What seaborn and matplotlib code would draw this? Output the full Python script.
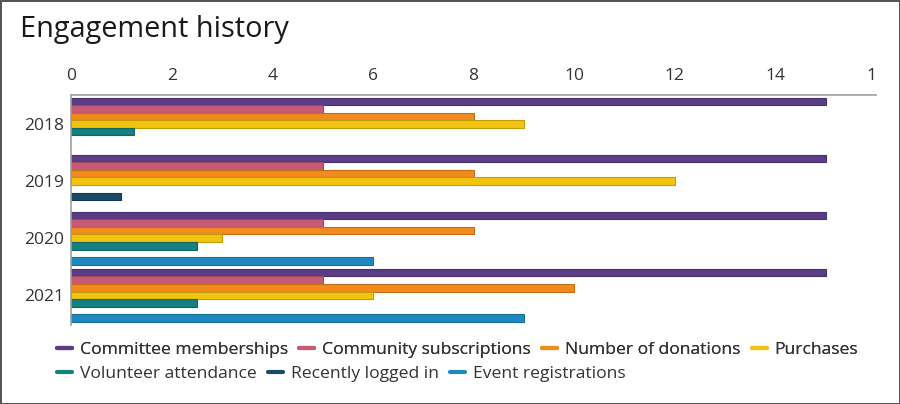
import numpy as np
import pandas as pd
import matplotlib.pyplot as plt
import seaborn as sns
from matplotlib.lines import Line2D
from matplotlib.transforms import Bbox, TransformedBbox
import matplotlib.colors as mcolors

sns.set_theme(style="white")
plt.rcParams['font.family'] = ['Open Sans', 'DejaVu Sans']

years = ['2018', '2019', '2020', '2021']
series = ['Committee memberships', 'Community subscriptions', 'Number of donations',
          'Purchases', 'Volunteer attendance', 'Recently logged in', 'Event registrations']
committee = [15, 15, 15, 15]
community = [5, 5, 5, 5]
donations = [8, 8, 8, 10]
purchases = [9, 12, 3, 6]
volunteer = [1.25, None, 2.5, 2.5]
logged_in = [None, 1, None, None]
events = [None, None, 6, 9]
colors = ['#5a3d85', '#c75a74', '#f28a1d', '#f2c30f', '#16807f', '#1a4a69', '#1f89c1']

values = [committee, community, donations, purchases, volunteer, logged_in, events]
rows = []
for name, vals in zip(series, values):
    for y, v in zip(years, vals):
        if v is not None:
            rows.append({'year': y, 'series': name, 'value': v})
df = pd.DataFrame(rows)

fig = plt.figure(figsize=(9, 4.04), dpi=100)
ax = fig.add_axes([71 / 900, 1 - 325 / 404, (876 - 71) / 900, 230 / 404])
sns.barplot(data=df, x='value', y='year', hue='series', hue_order=series, order=years,
            palette=colors, orient='h', width=0.93, saturation=1, legend=False, ax=ax)

for cont, c in zip(ax.containers, colors):
    edge = np.array(mcolors.to_rgb(c)) * 0.8
    for p in cont:
        p.set_edgecolor(edge)
        p.set_linewidth(0.8)

ax.set_xlim(0, 16)
ax.set_ylim(3.52, -0.51)
ax.set_xticks(np.arange(0, 17, 2))
ax.xaxis.tick_top()
ax.tick_params(axis='x', length=0, pad=8, labelsize=12.5, labelcolor='#333333')
ax.tick_params(axis='y', length=0, pad=5, labelsize=12.5, labelcolor='#333333')
ax.set_xlabel('')
ax.set_ylabel('')
for s in ['right', 'bottom']:
    ax.spines[s].set_visible(False)
for s in ['top', 'left']:
    ax.spines[s].set_color('#a0a0a0')
    ax.spines[s].set_linewidth(1.2)

# the last tick label is cut off at the right edge of the plot area
clip = TransformedBbox(Bbox([[0, 0], [876 / 900, 1]]), fig.transFigure)
last = ax.get_xticklabels()[-1]
last.set_clip_box(clip)
last.set_clip_on(True)

fig.text(20 / 900, 1 - 29 / 404, 'Engagement history', fontsize=20.8, color='#1a1a1a',
         va='center', ha='left')

handles = [Line2D([0], [0], color=c, lw=3) for c in colors]
legend_kw = dict(frameon=False, fontsize=12.6, handlelength=0.85, handletextpad=0.45,
                 columnspacing=0.65, borderaxespad=0, loc='center left')
leg1 = fig.legend(handles[:4], series[:4], ncol=4,
                  bbox_to_anchor=(50 / 900, 1 - 350 / 404), **legend_kw)
leg2 = fig.legend(handles[4:], series[4:], ncol=3,
                  bbox_to_anchor=(50 / 900, 1 - 374 / 404), **legend_kw)
fig.add_artist(leg1)
for leg in (leg1, leg2):
    for t in leg.get_texts():
        t.set_color('#333333')

fig.patch.set_edgecolor('#555555')
fig.patch.set_linewidth(2)
plt.savefig('out.png', dpi=100)
